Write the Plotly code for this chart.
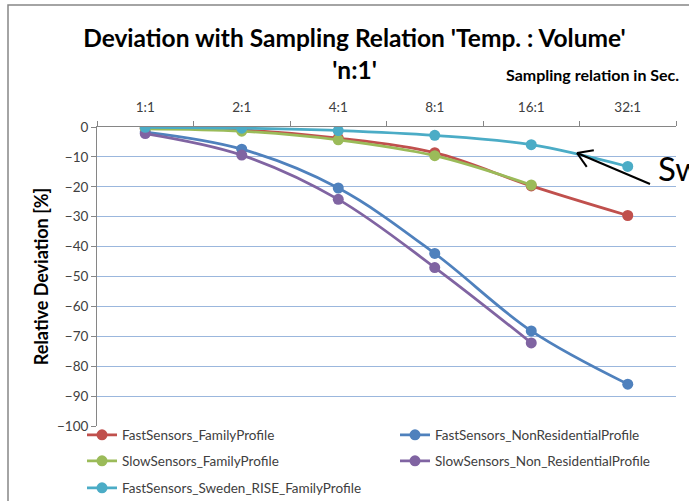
import math
import plotly.graph_objects as go

categories = ["1:1", "2:1", "4:1", "8:1", "16:1", "32:1"]
fast_family = [-0.5, -1.0, -3.7, -8.6, -19.7, -29.6]
fast_nonres = [-1.7, -7.4, -20.4, -42.3, -68.2, -86.0]
slow_family = [-0.6, -1.4, -4.3, -9.6, -19.4, None]
slow_nonres = [-2.2, -9.4, -24.2, -47.0, -72.2, None]
fast_sweden = [-0.1, -0.4, -1.2, -2.8, -5.9, -13.2]

series_names = [
    "FastSensors_FamilyProfile",
    "FastSensors_NonResidentialProfile",
    "SlowSensors_FamilyProfile",
    "SlowSensors_Non_ResidentialProfile",
    "FastSensors_Sweden_RISE_FamilyProfile",
]
series_values = [fast_family, fast_nonres, slow_family, slow_nonres, fast_sweden]
colors = ["#C0504D", "#4F81BD", "#9BBB59", "#8064A2", "#4BACC6"]

FONT = "Lato"
W, H = 689, 501
L, R, T, B = 97, 676, 127, 426  # plot area in pixels


def px(x):
    return (x - L) / (R - L)


def py(y):
    return (B - y) / (B - T)


legend_ids = ["legend", "legend2", "legend3", "legend4", "legend5"]
legend_pos = [(82, 435), (395, 435), (82, 461), (395, 461), (82, 488)]

fig = go.Figure()
for name, vals, col, lid in zip(series_names, series_values, colors, legend_ids):
    fig.add_trace(go.Scatter(
        x=categories, y=vals, name=name, mode="lines+markers",
        line=dict(color=col, width=2.75, shape="spline", smoothing=1.0),
        marker=dict(color=col, size=11),
        legend=lid, connectgaps=False,
    ))

layout_legends = {}
for lid, (lx, ly) in zip(legend_ids, legend_pos):
    layout_legends[lid] = dict(
        x=px(lx), y=py(ly), xanchor="left", yanchor="middle",
        font=dict(family=FONT, size=13.5, color="#404040"),
        bgcolor="rgba(0,0,0,0)", borderwidth=0,
    )

shapes = [
    dict(type="rect", xref="paper", yref="paper",
         x0=px(8), x1=px(760), y0=py(5), y1=py(560),
         line=dict(color="#868686", width=1.5), fillcolor="rgba(0,0,0,0)", layer="below"),
]
hx, hy, tx, ty = 577, 153, 650, 184
shapes.append(dict(type="line", xref="paper", yref="paper",
                   x0=px(tx), y0=py(ty), x1=px(hx), y1=py(hy),
                   line=dict(color="black", width=2)))
dx, dy = tx - hx, ty - hy
d = math.hypot(dx, dy)
ux, uy = dx / d, dy / d
for ang in (math.radians(32), math.radians(-32)):
    rx = ux * math.cos(ang) - uy * math.sin(ang)
    ry = ux * math.sin(ang) + uy * math.cos(ang)
    shapes.append(dict(type="line", xref="paper", yref="paper",
                       x0=px(hx), y0=py(hy), x1=px(hx + 17 * rx), y1=py(hy + 17 * ry),
                       line=dict(color="black", width=2)))

annotations = [
    dict(text="<b>Sampling relation in Sec.</b>", xref="paper", yref="paper",
         x=px(681), y=py(75), xanchor="right", yanchor="middle", showarrow=False,
         font=dict(family=FONT, size=16, color="#000000")),
    dict(text="Sweden", xref="paper", yref="paper",
         x=px(656), y=py(168), xanchor="left", yanchor="middle", showarrow=False,
         font=dict(family=FONT, size=33, color="#000000")),
]

fig.update_layout(
    width=W, height=H,
    margin=dict(l=L, r=W - R, t=T, b=H - B, pad=0, autoexpand=False),
    paper_bgcolor="white", plot_bgcolor="white",
    title=dict(text="<b>Deviation with Sampling Relation 'Temp. : Volume'<br>'n:1'</b>",
               xref="container", yref="container", x=354.5 / W, y=1 - 47 / H,
               xanchor="center", yanchor="top",
               font=dict(family=FONT, size=24.5, color="#000000")),
    showlegend=True,
    xaxis=dict(type="category", side="top", range=[-0.5, 5.5],
               showline=True, linecolor="#868686", linewidth=1,
               ticks="outside", ticklen=5, tickcolor="#868686", tickson="boundaries",
               ticklabelstandoff=9,
               showgrid=False, zeroline=False,
               tickfont=dict(family=FONT, size=13.5, color="#404040")),
    yaxis=dict(range=[-100, 0], dtick=10, tick0=0,
               showline=True, linecolor="#868686", linewidth=1,
               ticks="outside", ticklen=5, tickcolor="#868686",
               showgrid=True, gridcolor="#9BB7DD", gridwidth=1, zeroline=False,
               tickfont=dict(family=FONT, size=13.5, color="#404040"),
               title=dict(text="<b>Relative Deviation [%]</b>", standoff=3,
                          font=dict(family=FONT, size=18, color="#000000"))),
    shapes=shapes,
    annotations=annotations,
    **layout_legends,
)

fig.write_html("out.html")
